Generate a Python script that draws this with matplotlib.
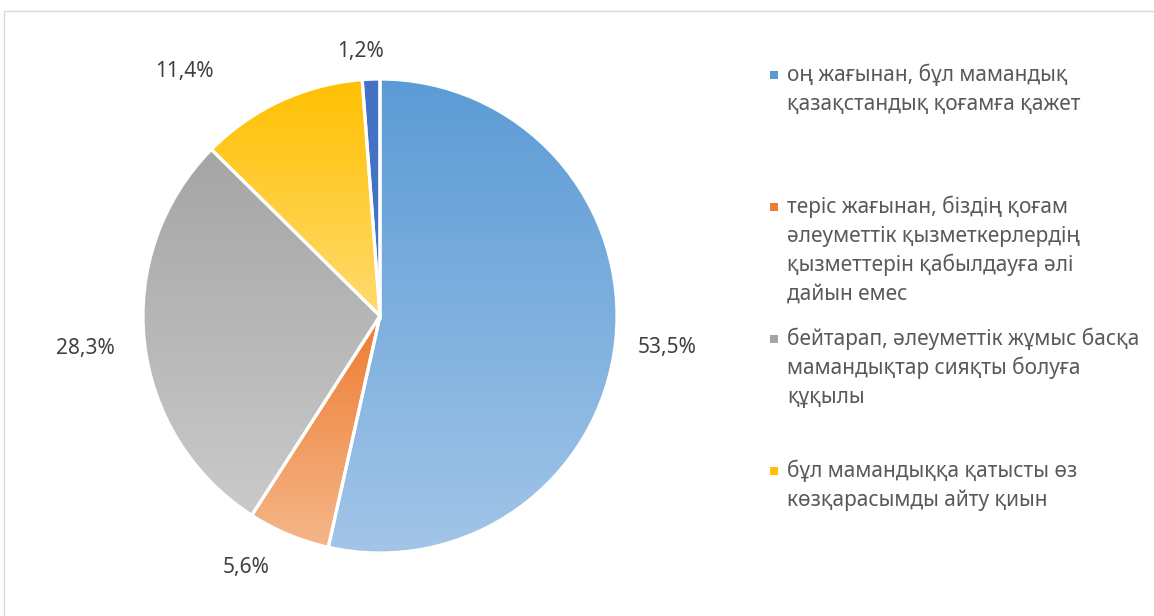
import numpy as np
import matplotlib
matplotlib.use("Agg")
import matplotlib.pyplot as plt
from matplotlib.patches import Rectangle
from matplotlib.colors import LinearSegmentedColormap

plt.rcParams['font.family'] = ['Noto Sans', 'DejaVu Sans']

# data
shares = [53.5, 5.6, 28.3, 11.4, 1.2]
legend_labels = [
    "оң жағынан, бұл мамандық\nқазақстандық қоғамға қажет",
    "теріс жағынан, біздің қоғам\nәлеуметтік қызметкерлердің\nқызметтерін қабылдауға әлі\nдайын емес",
    "бейтарап, әлеуметтік жұмыс басқа\nмамандықтар сияқты болуға\nқұқылы",
    "бұл мамандыққа қатысты өз\nкөзқарасымды айту қиын",
]
top_colors = ['#5b9bd5', '#ed7d31', '#a5a5a5', '#ffc000', '#4472c4']
bottom_colors = ['#a2c5e8', '#f5b689', '#cacaca', '#ffdb70', '#4472c4']

W, H = 1154, 616
fig = plt.figure(figsize=(W / 100, H / 100), dpi=100)
ax = fig.add_axes([0, 0, 1, 1])

cx, cy, R = 380, H - 316, 237
wedges, _ = ax.pie(shares, center=(cx, cy), radius=R, startangle=90, counterclock=False,
                   colors=top_colors, wedgeprops=dict(edgecolor='white', linewidth=2.3),
                   frame=True)

# vertical gradient inside every slice
grad = np.linspace(0, 1, 256).reshape(-1, 1)
for w, c0, c1 in zip(wedges, top_colors, bottom_colors):
    bb = w.get_path().get_extents(w.get_patch_transform())
    cmap = LinearSegmentedColormap.from_list('g', [c1, c0])
    im = ax.imshow(grad, cmap=cmap, aspect='auto', origin='lower',
                   extent=[bb.x0, bb.x1, bb.y0, bb.y1], zorder=w.get_zorder() - 0.1)
    im.set_clip_path(w)
    w.set_facecolor('none')
ax.set_xlim(0, W)
ax.set_ylim(0, H)
ax.axis('off')

# data labels
label_dist = [1.22, 1.2, 1.25, 1.32, 1.12]
label_nudge = [0, -5.3, 0, 13.8, 2.1]
for w, s, d, n in zip(wedges, shares, label_dist, label_nudge):
    a = np.radians((w.theta1 + w.theta2) / 2 + n)
    ax.text(cx + R * d * np.cos(a), cy + R * d * np.sin(a), f"{s:.1f}%".replace('.', ','),
            ha='center', va='center', fontsize=15, color='#404040')

# legend
entry_tops = [75, 207, 339, 471]
line_step = 29
for lab, top, col in zip(legend_labels, entry_tops, top_colors):
    ax.add_patch(Rectangle((770, H - top - 4), 8, 8, facecolor=col, edgecolor='none'))
    for i, line in enumerate(lab.split('\n')):
        ax.text(787, H - (top + i * line_step) - 6, line, ha='left', va='baseline',
                fontsize=15, color='#595959')

# chart frame
ax.add_patch(Rectangle((3.5, -10), W + 20, H - 10.5 + 10, facecolor='none',
                       edgecolor='#d9d9d9', linewidth=1, clip_on=False))

fig.savefig('out.png', dpi=100)
